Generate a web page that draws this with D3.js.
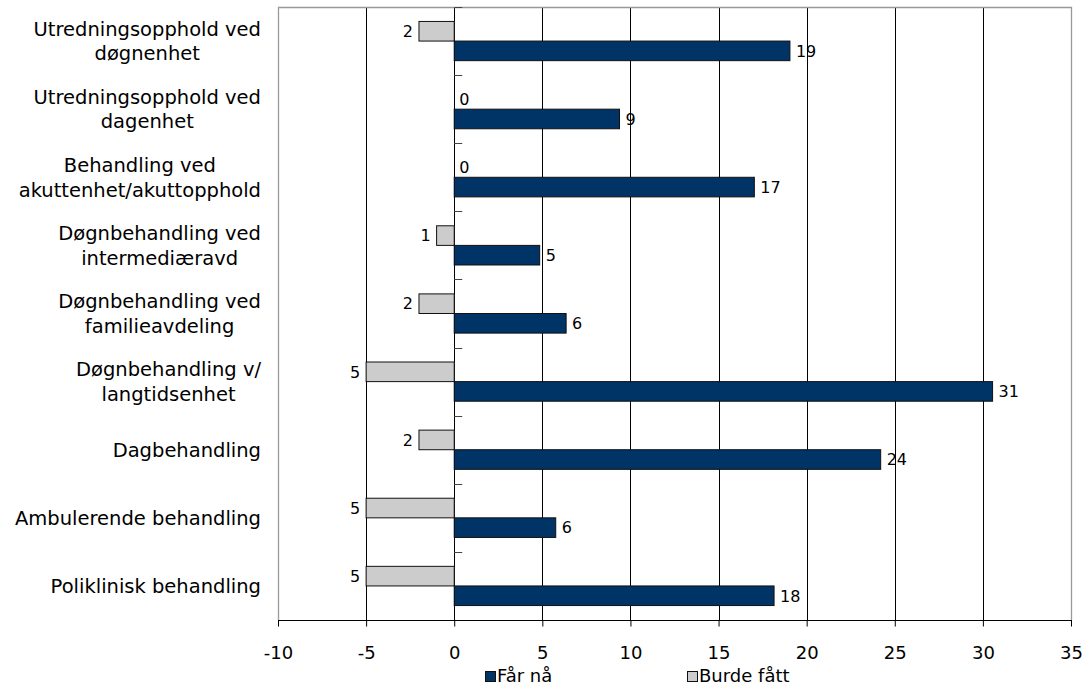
<!DOCTYPE html>
<html>
<head>
<meta charset="utf-8">
<script src="https://cdn.jsdelivr.net/npm/d3@7"></script>
<style>
  html, body { margin: 0; padding: 0; background: #fff; }
  svg { display: block; }
  text { font-family: "DejaVu Sans", Verdana, sans-serif; fill: #000; }
</style>
</head>
<body>
<svg id="chart" width="1087" height="686"></svg>
<script>
// ---- Data ----
const categories = [
  ["Utredningsopphold ved", "døgnenhet"],
  ["Utredningsopphold ved", "dagenhet"],
  ["Behandling ved", "akuttenhet/akuttopphold"],
  ["Døgnbehandling ved", "intermediæravd"],
  ["Døgnbehandling ved", "familieavdeling"],
  ["Døgnbehandling v/", "langtidsenhet"],
  ["Dagbehandling"],
  ["Ambulerende behandling"],
  ["Poliklinisk behandling"]
];
const farNa = [19.05, 9.38, 17.03, 4.85, 6.35, 30.55, 24.2, 5.76, 18.15];   // "Får nå"
const burdeFatt = [2, 0, 0, 1, 2, 5, 2, 5, 5];                              // "Burde fått" (drawn to the left)
const seriesNames = ["Burde fått", "Får nå"];
const legendNames = ["Får nå", "Burde fått"];
const xTicks = [-10, -5, 0, 5, 10, 15, 20, 25, 30, 35];

// ---- Layout ----
const svg = d3.select("#chart");
const pLeft = 278, pRight = 1071, pTop = 7, pBottom = 620;
const colors = { "Får nå": "#003366", "Burde fått": "#cccccc" };

const x = d3.scaleLinear().domain([-10, 35]).range([pLeft, pRight]);
const y = d3.scaleBand().domain(d3.range(categories.length)).range([pTop, pBottom]).padding(0);
const ySub = d3.scaleBand().domain(seriesNames).range([0, y.bandwidth()]).paddingInner(0).paddingOuter(0.737);

// Gridlines
svg.append("g").selectAll("line").data(xTicks.filter(t => t > -10 && t < 35)).join("line")
  .attr("x1", d => Math.round(x(d)) + 0.5).attr("x2", d => Math.round(x(d)) + 0.5)
  .attr("y1", pTop).attr("y2", pBottom)
  .attr("stroke", "#000").attr("stroke-width", 1);

// Frame (gray top/left/right)
svg.append("path")
  .attr("d", `M${pLeft + 0.5},${pBottom} V${pTop + 0.5} H${pRight + 0.5} V${pBottom}`)
  .attr("fill", "none").attr("stroke", "#999").attr("stroke-width", 1.3);

// X axis
const xAxis = d3.axisBottom(x).tickValues(xTicks).tickSize(6).tickPadding(20).tickFormat(d3.format("d"));
const gx = svg.append("g").attr("transform", `translate(0,${pBottom + 0.5})`).call(xAxis);
gx.select(".domain").attr("stroke", "#000").attr("d", `M${pLeft},0H${pRight + 1}`);
gx.selectAll(".tick line").attr("stroke", "#000");
gx.selectAll(".tick text").style("font-size", "18px").attr("font-family", "DejaVu Sans, Verdana, sans-serif")
  .text(d => d < 0 ? "-" + Math.abs(d) : d);

// Zero axis minor ticks at category boundaries
const boundaries = d3.range(categories.length).map(i => y(i));
svg.append("g").selectAll("line").data(boundaries).join("line")
  .attr("x1", x(0)).attr("x2", x(0) + 8)
  .attr("y1", d => Math.round(d) + 0.5).attr("y2", d => Math.round(d) + 0.5)
  .attr("stroke", "#444").attr("stroke-width", 1);

// Bars
const rows = categories.map((c, i) => ({ i, far: farNa[i], burde: burdeFatt[i] }));
const gBars = svg.append("g");
rows.forEach(r => {
  if (r.burde > 0) {
    gBars.append("rect")
      .attr("x", x(-r.burde)).attr("width", x(0) - x(-r.burde))
      .attr("y", y(r.i) + ySub("Burde fått")).attr("height", ySub.bandwidth())
      .attr("fill", colors["Burde fått"]).attr("stroke", "#111").attr("stroke-width", 1);
  }
  gBars.append("rect")
    .attr("x", x(0)).attr("width", x(r.far) - x(0))
    .attr("y", y(r.i) + ySub("Får nå")).attr("height", ySub.bandwidth())
    .attr("fill", colors["Får nå"]).attr("stroke", "#111").attr("stroke-width", 1);
});

// Data labels
const gLab = svg.append("g").style("font-size", "16px");
rows.forEach(r => {
  const yb = y(r.i) + ySub("Burde fått") + ySub.bandwidth() / 2;
  const yf = y(r.i) + ySub("Får nå") + ySub.bandwidth() / 2;
  if (r.burde > 0) {
    gLab.append("text").attr("x", x(-r.burde) - 6).attr("y", yb).attr("dy", "0.36em")
      .attr("text-anchor", "end").text(Math.round(r.burde));
  } else {
    gLab.append("text").attr("x", x(0) + 5).attr("y", yb).attr("dy", "0.36em")
      .attr("text-anchor", "start").text("0");
  }
  gLab.append("text").attr("x", x(r.far) + 6).attr("y", yf).attr("dy", "0.36em")
    .attr("text-anchor", "start").text(Math.round(r.far));
});

// Category labels
const labelRight = 261, lineH = 24.5;
const gCat = svg.append("g").style("font-size", "19.5px");
categories.forEach((lines, i) => {
  const cy = y(i) + y.bandwidth() / 2;
  const g = gCat.append("g");
  const texts = lines.map((ln, k) => g.append("text")
    .attr("y", cy + (k - (lines.length - 1) / 2) * lineH).attr("dy", "0.36em").text(ln));
  const maxW = d3.max(texts, t => t.node().getComputedTextLength());
  texts.forEach(t => t.attr("x", labelRight - maxW / 2).attr("text-anchor", "middle"));
});

// Legend
const legendX = [485, 687];
const gLeg = svg.append("g").style("font-size", "18px");
legendNames.forEach((n, k) => {
  gLeg.append("rect").attr("x", legendX[k] + 0.5).attr("y", 671.5).attr("width", 10).attr("height", 10)
    .attr("fill", colors[n]).attr("stroke", "#111").attr("stroke-width", 1);
  gLeg.append("text").attr("x", legendX[k] + 12).attr("y", 682).text(n);
});
</script>
</body>
</html>
